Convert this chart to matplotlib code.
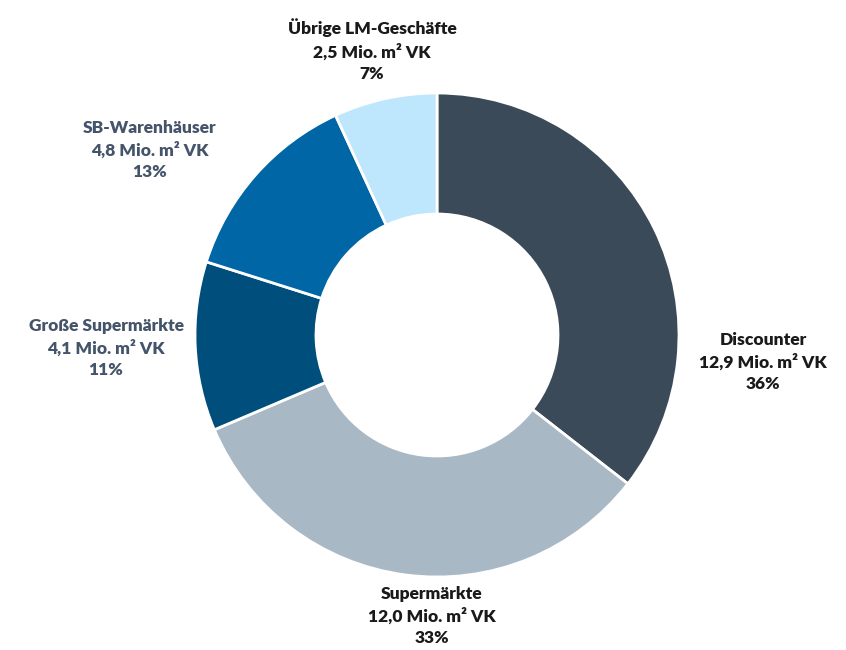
import matplotlib
matplotlib.use("Agg")
import matplotlib.pyplot as plt

# Verkaufsfläche nach Betriebstyp
categories = ["Discounter", "Supermärkte", "Große Supermärkte", "SB-Warenhäuser", "Übrige LM-Geschäfte"]
values = [12.9, 12.0, 4.1, 4.8, 2.5]
value_labels = ["12,9", "12,0", "4,1", "4,8", "2,5"]
percents = ["36%", "33%", "11%", "13%", "7%"]

colors = ["#3B4A58", "#A9B8C5", "#004E7C", "#0066A5", "#BEE6FC"]
text_colors = ["#1A1A1A", "#1A1A1A", "#44546A", "#44546A", "#1A1A1A"]
label_pos = [(763, 362), (432, 616), (106, 348), (150, 150), (372, 50)]

plt.rcParams['font.family'] = ['Lato', 'DejaVu Sans']

fig = plt.figure(figsize=(8.46, 6.5), dpi=100)
ax = fig.add_axes([0, 0, 1, 1])

cx, cy, r = 437, 335, 242
# pie works y-up, so the pixel row is negated
ax.pie(values, colors=colors, startangle=90, counterclock=False,
       center=(cx, -cy), radius=r,
       wedgeprops=dict(width=r * 0.5, edgecolor="white", linewidth=2))
ax.set_xlim(0, 846)
ax.set_ylim(-650, 0)
ax.axis("off")

for name, v, p, c, (x, y) in zip(categories, value_labels, percents, text_colors, label_pos):
    ax.text(x, -y, f"{name}\n{v} Mio. m² VK\n{p}", ha="center", va="center",
            fontsize=12.5, fontweight="heavy", color=c, linespacing=1.4)

fig.savefig("out.png", dpi=100)
